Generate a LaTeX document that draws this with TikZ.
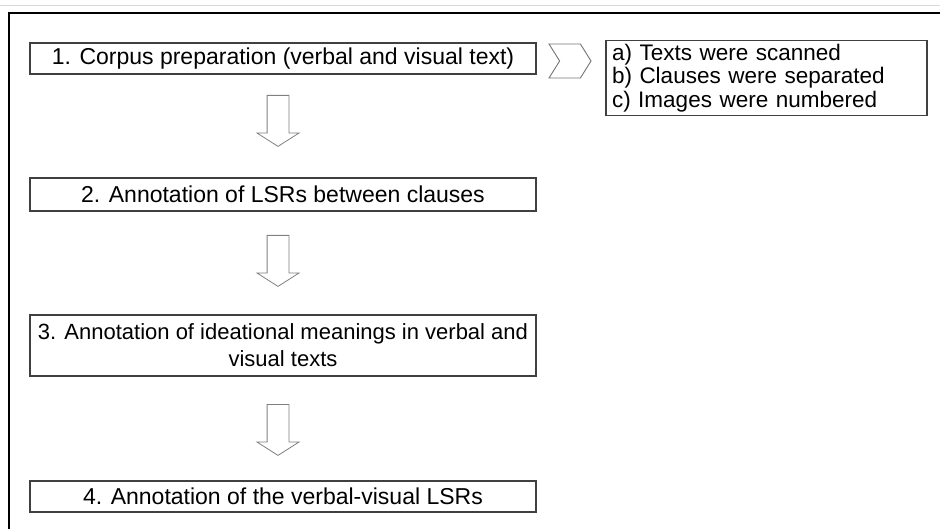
\documentclass[tikz,border=0pt]{standalone}
\usepackage{fontspec}
\setmainfont{Liberation Sans}
\usetikzlibrary{shapes.arrows,shapes.symbols}

\begin{document}
\begin{tikzpicture}[x=1pt, y=-1pt,
    stepbox/.style={rectangle, draw=black!75, line width=1.1pt, fill=white, minimum width=506pt,
      align=center, inner xsep=1pt, font=\fontsize{23}{26}\selectfont},
    downarrow/.style={single arrow, draw=black!50, line width=0.8pt, fill=white, rotate=-90,
      anchor=tail, inner sep=10.5pt, minimum height=51pt, single arrow head extend=10pt,
      single arrow tip angle=115},
    listbox/.style={rectangle, draw=black!75, line width=1.1pt, fill=white, text width=309pt,
      align=left, inner xsep=6pt, minimum height=74pt, font=\fontsize{22.5}{23.5}\selectfont}]
  \useasboundingbox (0,0) rectangle (940,529);
  \draw[black!15, line width=1pt] (0,6) -- (940,6);
  \draw[black, line width=1.3pt] (9,529) -- (9,13) -- (940,13);
  \node[stepbox, minimum height=31pt] (prep) at (283,58.5) {1. Corpus preparation (verbal and visual text)};
  \node[stepbox, minimum height=33pt] (clauses) at (283,194.5) {2. Annotation of LSRs between clauses};
  \node[stepbox, minimum height=61pt, font=\fontsize{22}{27}\selectfont] (ideas) at (283,345.5) {3. Annotation of ideational meanings in verbal and\\ visual texts};
  \node[stepbox, minimum height=31pt] (lsrs) at (283,496.5) {4. Annotation of the verbal-visual LSRs};
  \node[signal, draw=black!55, line width=0.9pt, signal from=west, signal to=east, signal pointer angle=116,
    minimum width=42pt, minimum height=34pt, inner sep=0pt] (chev) at (570,61) {};
  \node[listbox] (steps) at (766.5,78) {a) Texts were scanned\\ b) Clauses were separated\\ c) Images were numbered};
  \node[downarrow] (arrA) at (278,95) {};
  \node[downarrow] (arrB) at (278,235) {};
  \node[downarrow] (arrC) at (278,404) {};
\end{tikzpicture}
\end{document}
